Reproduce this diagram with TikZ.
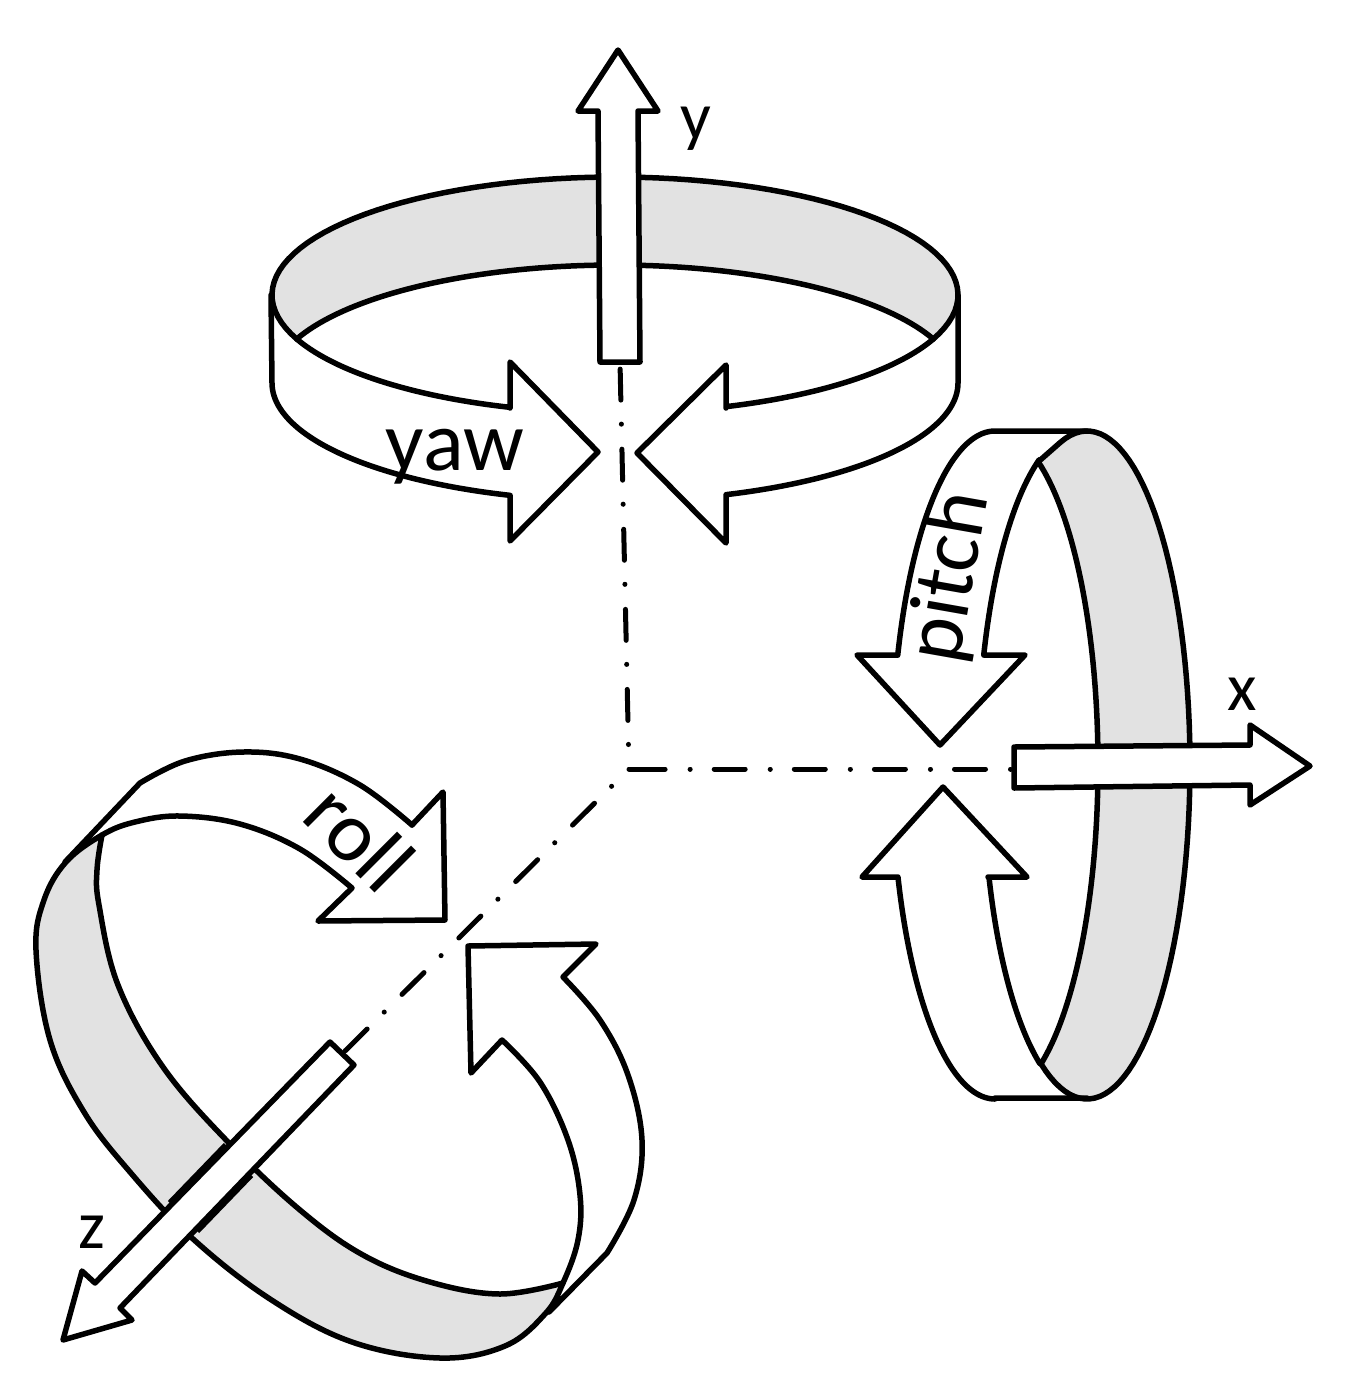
\documentclass[tikz,border=0pt]{standalone}
\usepackage{fontspec}
\setmainfont{Carlito}
\tikzset{
  outline/.style={draw=black,line width=5.5pt,line join=round,line cap=round},
  band/.style={fill=black!11.5},
  axisline/.style={draw=black,line width=5pt,line cap=round},
  shaft/.style={outline,fill=white},
  big/.style={font=\fontsize{85}{85}\selectfont,inner sep=0pt},
  small/.style={font=\fontsize{68}{68}\selectfont,inner sep=0pt},
  rc/.style={smooth,tension=.62},
  ell/.style={samples=80}
}
\begin{document}
\begin{tikzpicture}[x=1pt,y=-1pt]
\useasboundingbox (0,0) rectangle (1350,1393);
\fill[white] (0,0) rectangle (1350,1393);

% axis anchors
\coordinate (O) at (629,769);
\coordinate (Yt) at (620,362);
\coordinate (Xt) at (1014,769);
\coordinate (Zt) at (343,1053);

% yaw ring
\path[band] plot[ell,domain=158.1:381.9] ({615+343*cos(\x)},{295+118*sin(\x)}) -- plot[ell,domain=-21.9:-158.1] ({615+343*cos(\x)},{383+118*sin(\x)}) -- cycle;
\draw[outline] plot[ell,domain=158.1:381.9] ({615+343*cos(\x)},{295+118*sin(\x)});
\draw[outline] plot[ell,domain=-21.9:-158.1] ({615+343*cos(\x)},{383+118*sin(\x)});
\draw[outline] (271,295) -- plot[ell,domain=180:107.8] ({615+343*cos(\x)},{383+118*sin(\x)}) -- (510,497) -- (510,541) -- (598,452) -- (510,362) -- (510,408) -- plot[ell,domain=107.8:158.1] ({615+343*cos(\x)},{295+118*sin(\x)});
\draw[outline] (958,295) -- plot[ell,domain=0:71.1] ({615+343*cos(\x)},{383+118*sin(\x)}) -- (726,497) -- (726,543) -- (637,453) -- (726,365) -- (726,408) -- plot[ell,domain=71.1:21.9] ({615+343*cos(\x)},{295+118*sin(\x)});

% pitch ring
\path[band] (1038,462) -- plot[ell,domain=255:476.6] ({1087+103*cos(\x)},{765+334*sin(\x)}) -- plot[ell,domain=63.4:-65] ({995+103*cos(\x)},{765+334*sin(\x)}) -- cycle;
\draw[outline] (1038,462) -- plot[ell,domain=255:476.6] ({1087+103*cos(\x)},{765+334*sin(\x)});
\draw[outline] plot[ell,domain=63.4:-65] ({995+103*cos(\x)},{765+334*sin(\x)});
\draw[outline] (1087,431) -- (995,431) -- plot[ell,domain=270:199.2] ({995+103*cos(\x)},{765+334*sin(\x)}) -- (857,655) -- (940,745) -- (1025,655) -- (985,655) -- plot[ell,domain=199.2:246] ({1081+103*cos(\x)},{765+334*sin(\x)});
\draw[outline] (1087,1098) -- (995,1098) -- plot[ell,domain=90:160.4] ({995+103*cos(\x)},{765+334*sin(\x)}) -- (862,877) -- (943,787) -- (1027,877) -- (988,877) -- plot[ell,domain=160.4:116.6] ({1086+103*cos(\x)},{765+334*sin(\x)});

% roll ring
\path[band] plot[rc] coordinates {(102,835)(66,862)(44,900)(36,950)(50,1040)(84,1112)(130,1172)(192,1238)(270,1299)(352,1342)(440,1358)(505,1346)(545,1314)(563,1283)}
  -- plot[rc] coordinates {(563,1283)(500,1294)(430,1282)(363,1255)(300,1210)(228,1142)(163,1067)(118,985)(99,905)(97,870)(102,835)} -- cycle;
\draw[outline] (412,825) -- (443,792) -- (445,920) -- (318,921) -- (352,888)
  -- plot[rc] coordinates {(352,888)(300,849)(240,824)(180,816)(135,822)(102,835)(66,862)(44,900)(36,950)(50,1040)(84,1112)(130,1172)(192,1238)(270,1299)(352,1342)(440,1358)(505,1346)(545,1314)(563,1283)(578,1240)(580,1195)(568,1140)(540,1082)(502,1040)}
  -- (471,1073) -- (468,946) -- (596,944) -- (563,977)
  -- plot[rc] coordinates {(563,977)(600,1020)(628,1075)(642,1140)(634,1200)(607,1253)} -- (549,1312);
\draw[outline] plot[rc] coordinates {(412,825)(360,785)(300,759)(243,752)(185,761)(140,783)} -- (65,862);
\draw[outline] plot[rc] coordinates {(563,1283)(500,1294)(430,1282)(363,1255)(300,1210)(228,1142)(163,1067)(118,985)(99,905)(97,870)(102,835)};
\draw[draw=black,line width=6pt] (226,1145) -- (170,1203);
\draw[draw=black,line width=6pt] (251,1175) -- (197,1231);

% axes
\draw[axisline,dash pattern=on 31pt off 25pt on 0.1pt off 24pt,dash phase=31.5pt] (O) -- (Yt);
\draw[axisline,dash pattern=on 31pt off 25pt on 0.1pt off 24pt,dash phase=75pt] (O) -- (Xt);
\draw[axisline,dash pattern=on 31pt off 25pt on 0.1pt off 24pt,dash phase=31.5pt] (O) -- (Zt);
\draw[axisline] (O) -- ++(12,0);

% axis arrows
\draw[shaft] (600,362) -- (598,111) -- (578,111) -- (618,50) -- (658,111) -- (638,111) -- (640,362) -- cycle;
\draw[shaft] (1014,747) -- (1250,745) -- (1250,725) -- (1310,766) -- (1250,805) -- (1250,785) -- (1014,788) -- cycle;
\draw[shaft] (330,1042) -- (95,1283) -- (82,1271) -- (63,1340) -- (132,1320) -- (120,1308) -- (354,1065) -- cycle;

% labels
\node[big] (yawlabel) at (455,457) {yaw};
\node[big,rotate=80] (pitchlabel) at (951,577) {pitch};
\node[big,rotate=-45] (rolllabel) at (360,837) {roll};
\node[small] (ylabel) at (696,129) {y};
\node[small] (xlabel) at (1242,694) {x};
\node[small] (zlabel) at (92,1232) {z};
\end{tikzpicture}
\end{document}
